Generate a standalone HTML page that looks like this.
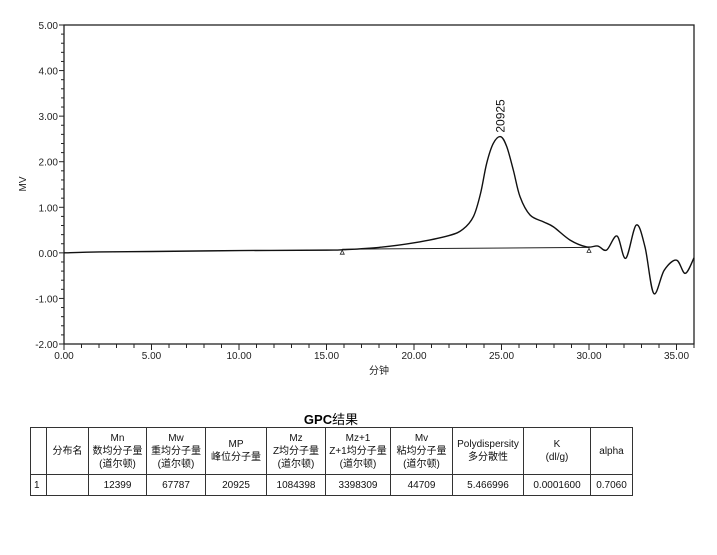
<!DOCTYPE html>
<html><head><meta charset="utf-8">
<style>
body{margin:0;background:#fff;width:717px;height:555px;overflow:hidden;font-family:"Liberation Sans","Noto Sans CJK SC",sans-serif;}
#chart{position:absolute;left:0;top:0;}
#tbl{position:absolute;left:30px;top:427px;border-collapse:collapse;font-size:10px;color:#111;}
#tbl td{border:1px solid #333;text-align:center;padding:0;line-height:13px;}
#title{position:absolute;left:280px;top:409px;width:102px;text-align:center;font-size:13px;}
</style></head><body>
<svg id="chart" width="717" height="400"></svg>
<div id="title"><b>GPC</b>结果</div>
<table id="tbl">
<tr style="height:47px">
<td style="width:15px"></td><td style="width:41px">分布名</td>
<td style="width:57px">Mn<br>数均分子量<br>(道尔顿)</td>
<td style="width:58px">Mw<br>重均分子量<br>(道尔顿)</td>
<td style="width:60px">MP<br>峰位分子量</td>
<td style="width:58px">Mz<br>Z均分子量<br>(道尔顿)</td>
<td style="width:64px">Mz+1<br>Z+1均分子量<br>(道尔顿)</td>
<td style="width:61px">Mv<br>粘均分子量<br>(道尔顿)</td>
<td style="width:70px">Polydispersity<br>多分散性</td>
<td style="width:66px">K<br>(dl/g)</td>
<td style="width:41px">alpha</td></tr>
<tr style="height:21px">
<td style="text-align:left;padding-left:3px">1</td><td></td><td>12399</td><td>67787</td><td>20925</td><td>1084398</td><td>3398309</td><td>44709</td><td>5.466996</td><td>0.0001600</td><td>0.7060</td></tr>
</table>
<script>
const times=[0,2,5,10,15,16,18,20,22,22.8,23.4,23.8,24.15,24.53,24.95,25.3,25.68,26.06,26.63,27.4,27.97,28.92,29.87,30.5,31,31.6,32.1,32.7,33.2,33.7,34.3,35,35.5,36];
const mv=[0,0.02,0.03,0.05,0.06,0.07,0.12,0.22,0.38,0.52,0.8,1.3,1.96,2.4,2.55,2.33,1.81,1.23,0.83,0.68,0.57,0.28,0.13,0.15,0.06,0.37,-0.12,0.61,0.13,-0.89,-0.38,-0.16,-0.45,-0.11];
const baseT=[15.9,30.0];
const baseV=[0.08,0.12];
const peakT=24.95, peakV=2.55, peakLabel="20925";
const xTicks=[0,5,10,15,20,25,30,35];
const yTicks=[5,4,3,2,1,0,-1,-2];
const X0=64,X1=694,Y0=25,Y1=344,xmin=0,xmax=36,ymin=-2,ymax=5;
const sx=t=>X0+(t-xmin)/(xmax-xmin)*(X1-X0);
const sy=v=>Y1-(v-ymin)/(ymax-ymin)*(Y1-Y0);
const svg=document.getElementById('chart');const NS='http://www.w3.org/2000/svg';
function mk(tag,a,txt){const e=document.createElementNS(NS,tag);for(const k in a)e.setAttribute(k,a[k]);if(txt!=null)e.textContent=txt;svg.appendChild(e);return e;}
let f=mk('rect',{x:X0,y:Y0,width:X1-X0,height:Y1-Y0,fill:'none',stroke:'#222','stroke-width':1.3});


for(let v=ymin;v<=ymax+1e-9;v+=0.2){const maj=Math.abs(v-Math.round(v))<1e-6;
 mk('line',{x1:X0-(maj?5:3),x2:X0,y1:sy(v),y2:sy(v),stroke:'#222'});}
yTicks.forEach(v=>{const t=mk('text',{x:X0-6,y:sy(v)+4,'text-anchor':'end','font-size':10,fill:'#222'},v.toFixed(2));
 
 });
for(let t=xmin;t<=xmax;t+=1){mk('line',{x1:sx(t),x2:sx(t),y1:Y1,y2:Y1+(t%5==0?6:4),stroke:'#222'});}
xTicks.forEach(t=>{const e=mk('text',{x:sx(t),y:Y1+15,'text-anchor':'middle','font-size':10,fill:'#222'},t.toFixed(2));
 
 });
let yt=mk('text',{x:26,y:184,'text-anchor':'middle','font-size':10,transform:'rotate(-90 26 184)',fill:'#222'},'MV');


let xt=mk('text',{x:379,y:374,'text-anchor':'middle','font-size':10,fill:'#222'},'分钟');


let bl=mk('line',{x1:sx(baseT[0]),y1:sy(baseV[0]),x2:sx(baseT[1]),y2:sy(baseV[1]),stroke:'#222','stroke-width':1});


baseT.forEach((t,i)=>{const x=sx(t),y=sy(baseV[i])+1;const m=mk('path',{d:`M${x-2},${y+4}L${x+2},${y+4}L${x},${y}Z`,fill:'none',stroke:'#222','stroke-width':0.8});
 
 });
const pts=times.map((t,i)=>[sx(t),sy(mv[i])]);
let d=`M${pts[0][0]},${pts[0][1]}`;
for(let i=0;i<pts.length-1;i++){const p0=pts[Math.max(0,i-1)],p1=pts[i],p2=pts[i+1],p3=pts[Math.min(pts.length-1,i+2)];
 d+=`C${p1[0]+(p2[0]-p0[0])/6},${p1[1]+(p2[1]-p0[1])/6} ${p2[0]-(p3[0]-p1[0])/6},${p2[1]-(p3[1]-p1[1])/6} ${p2[0]},${p2[1]}`;}
let c=mk('path',{d:d,fill:'none',stroke:'#111','stroke-width':1.4});


const lx=sx(peakT)+4,ly=sy(peakV)-4;
let pl=mk('text',{x:lx,y:ly,'font-size':12,fill:'#111',transform:`rotate(-90 ${lx} ${ly})`},peakLabel);


</script>
</body></html>
